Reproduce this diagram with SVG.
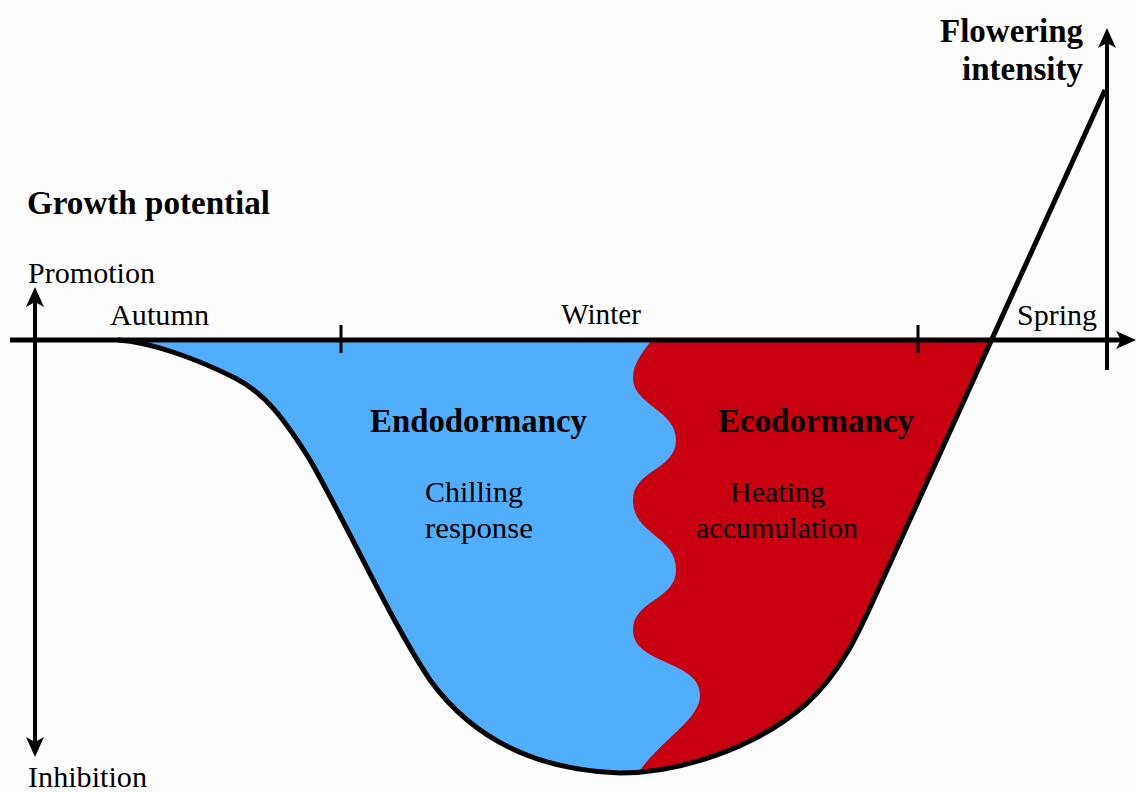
<svg xmlns="http://www.w3.org/2000/svg" width="1136" height="792" viewBox="0 0 1136 792">
  <style>
    text { font-family: "Liberation Serif", "Times New Roman", serif; fill: #000; }
    .reg { font-size: 29px; }
    .bold { font-size: 33px; font-weight: bold; }
    .axis { stroke: #000; fill: none; }
  </style>
  <defs>
    <marker id="arrow" viewBox="0 0 20 20" refX="10" refY="10" markerWidth="20" markerHeight="20" markerUnits="userSpaceOnUse" orient="auto-start-reverse">
      <path d="M0,1 L20,10 L0,19 L5,10 Z" fill="#000"/>
    </marker>
    <clipPath id="bowl">
      <path d="M120,340 C150,342 195,358 235,378 C265,393 285,420 310,460 C350,530 390,620 430,680 C470,735 530,770 620,773 C680,773 755,748 805,705 C842,672 860,630 878,590 L990,340 Z"/>
    </clipPath>
  </defs>
  <rect width="1136" height="792" fill="#FDFDFD"/>

  <g id="fills" clip-path="url(#bowl)">
    <rect x="100" y="330" width="900" height="460" fill="#50AEFA"/>
    <path d="M660,330 C648,346 633,360 633,378 C633,405 676,410 676,440 C676,470 633,470 633,500 C633,535 676,535 676,570 C676,600 633,600 633,630 C633,665 700,660 700,695 C700,722 655,742 634,780 L1000,780 L1000,330 Z" fill="#C9000F"/>
  </g>

  <g id="axes">
    <line class="axis" x1="10" y1="340" x2="1126" y2="340" stroke-width="5" marker-end="url(#arrow)"/>
    <line class="axis" x1="35" y1="297" x2="35" y2="747" stroke-width="4" marker-start="url(#arrow)" marker-end="url(#arrow)"/>
    <line class="axis" x1="1107" y1="370" x2="1107" y2="38" stroke-width="4" marker-end="url(#arrow)"/>
    <line class="axis" x1="341" y1="325" x2="341" y2="353" stroke-width="3"/>
    <line class="axis" x1="918" y1="325" x2="918" y2="353" stroke-width="3"/>
  </g>

  <g id="curve">
    <path d="M118,340 C150,342 195,358 235,378 C265,393 285,420 310,460 C350,530 390,620 430,680 C470,735 530,770 620,773 C680,773 755,748 805,705 C842,672 860,630 878,590 L1105,90" fill="none" stroke="#000" stroke-width="5" stroke-linejoin="round"/>
  </g>

  <g id="labels">
    <text class="bold" x="27" y="214" textLength="243" lengthAdjust="spacingAndGlyphs">Growth potential</text>
    <text class="reg" x="28" y="283" textLength="127" lengthAdjust="spacingAndGlyphs">Promotion</text>
    <text class="reg" x="28" y="787" textLength="119" lengthAdjust="spacingAndGlyphs">Inhibition</text>
    <text class="reg" x="110" y="325" textLength="99" lengthAdjust="spacingAndGlyphs">Autumn</text>
    <text class="reg" x="561" y="324" textLength="80" lengthAdjust="spacingAndGlyphs">Winter</text>
    <text class="reg" x="1017" y="325" textLength="80" lengthAdjust="spacingAndGlyphs">Spring</text>
    <text class="bold" x="940" y="42" textLength="143" lengthAdjust="spacingAndGlyphs">Flowering</text>
    <text class="bold" x="962" y="80" textLength="121" lengthAdjust="spacingAndGlyphs">intensity</text>
    <text class="bold" x="370" y="432" textLength="217" lengthAdjust="spacingAndGlyphs">Endodormancy</text>
    <text class="bold" x="718" y="432" textLength="196" lengthAdjust="spacingAndGlyphs">Ecodormancy</text>
    <text class="reg" x="425" y="502" textLength="98" lengthAdjust="spacingAndGlyphs">Chilling</text>
    <text class="reg" x="425" y="538" textLength="108" lengthAdjust="spacingAndGlyphs">response</text>
    <text class="reg" x="730" y="502" textLength="95" lengthAdjust="spacingAndGlyphs">Heating</text>
    <text class="reg" x="696" y="538" textLength="162" lengthAdjust="spacingAndGlyphs">accumulation</text>
  </g>
</svg>
